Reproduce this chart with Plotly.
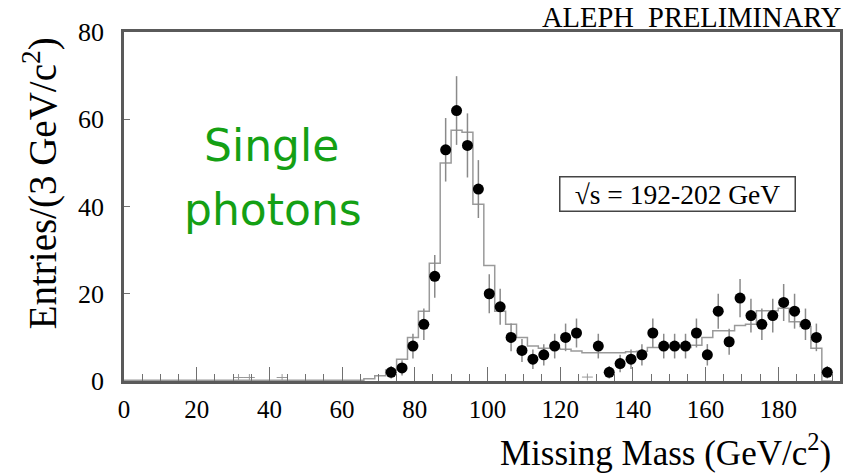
import numpy as np
import plotly.graph_objects as go

# ---- data -------------------------------------------------------------
# data points: bin centres (GeV/c^2) and entries per 3 GeV/c^2
data_mass = [73.5, 76.5, 79.5, 82.5, 85.5, 88.5, 91.5, 94.5, 97.5, 100.5,
             103.5, 106.5, 109.5, 112.5, 115.5, 118.5, 121.5, 124.5, 130.5,
             133.5, 136.5, 139.5, 142.5, 145.5, 148.5, 151.5, 154.5, 157.5,
             160.5, 163.5, 166.5, 169.5, 172.5, 175.5, 178.5, 181.5, 184.5,
             187.5, 190.5, 193.5]
data_entries = [2, 3, 8, 13, 24, 53, 62, 54, 44, 20,
                17, 10, 7, 5, 6, 8, 10, 11, 8,
                2, 4, 5, 6, 11, 8, 8, 8, 11,
                6, 16, 9, 19, 15, 13, 15, 18, 16,
                13, 10, 2]

# empty bins drawn as small crosses
empty_mass = [31.5, 34.5, 43.5, 127.5]
empty_level = [0.8, 0.8, 0.8, 0.9]

# Monte Carlo expectation histogram (bins of 3 GeV/c^2 from 0 to 195)
mc_bin_low = list(range(0, 195, 3))
mc_entries = [0.2, 0.2, 0.2, 0.2, 0.2, 0.2, 0.2, 0.2, 0.2, 0.2,
              0.2, 0.2, 0.2, 0.2, 0.2, 0.2, 0.2, 0.2, 0.2, 0.2,
              0.2, 0.2, 0.5, 1.2, 2.5, 5.0, 10.0, 16.0, 27.0, 50.0,
              57.5, 57.0, 40.5, 26.5, 16.0, 13.0, 10.0, 8.0, 7.5, 7.5,
              7.3, 6.9, 6.5, 6.5, 6.5, 6.5, 6.7, 6.8, 7.7, 7.7,
              7.7, 7.7, 8.2, 10.0, 11.5, 11.5, 12.7, 13.0, 16.1, 16.1,
              16.7, 13.6, 12.5, 7.5, 0.0]

x_ticks = [0, 20, 40, 60, 80, 100, 120, 140, 160, 180]
y_ticks = [0, 20, 40, 60, 80]

# ---- figure -----------------------------------------------------------
SERIF = "Liberation Serif, Times New Roman, serif"
FRAME = "#5a5a5a"

fig = go.Figure()

fig.add_trace(go.Scatter(
    x=mc_bin_low + [195], y=mc_entries + [mc_entries[-1]],
    mode="lines", line=dict(color="#9a9a9a", width=1.5, shape="hv"),
    hoverinfo="skip", showlegend=False))

fig.add_trace(go.Scatter(
    x=empty_mass, y=empty_level, mode="markers",
    marker=dict(size=1, color="rgba(0,0,0,0)"),
    error_x=dict(type="constant", value=1.5, color="#999999", thickness=1, width=0),
    error_y=dict(type="constant", value=0.8, color="#999999", thickness=1, width=0),
    showlegend=False, hoverinfo="skip"))

fig.add_trace(go.Scatter(
    x=data_mass, y=data_entries, mode="markers",
    marker=dict(color="black", size=11),
    error_y=dict(type="data", array=np.sqrt(np.array(data_entries, float)).tolist(),
                 color="#8a8a8a", thickness=1.5, width=0),
    showlegend=False))

fig.update_layout(
    width=850, height=476,
    margin=dict(l=124, r=7, t=32, b=95),
    paper_bgcolor="white", plot_bgcolor="white",
    font=dict(family=SERIF, color="black", size=25),
    xaxis=dict(range=[0, 197], tickvals=x_ticks, ticks="inside", ticklen=14,
               tickwidth=1, tickcolor="#707070",
               minor=dict(dtick=5, ticks="inside", ticklen=7, tickcolor="#707070", tickwidth=1),
               showline=True, linecolor=FRAME, linewidth=2.5, mirror=True,
               showgrid=False, zeroline=False, ticklabelstandoff=4,
               tickfont=dict(family=SERIF, size=25)),
    yaxis=dict(range=[0, 80], tickvals=y_ticks, ticks="inside", ticklen=6,
               tickwidth=1, tickcolor="#707070",
               showline=True, linecolor=FRAME, linewidth=2.5, mirror=True,
               showgrid=False, zeroline=False, ticklabelstandoff=12,
               tickfont=dict(family=SERIF, size=26)),
)

GREEN = dict(family="DejaVu Sans, Verdana, sans-serif", size=44, color="#14a014")
ann = [
    dict(text="Missing Mass (GeV/c<sup>2</sup>)", xref="paper", yref="paper",
         x=0.99, y=-0.198, xanchor="right", yanchor="middle", showarrow=False,
         font=dict(family=SERIF, size=35)),
    dict(text="Entries/(3 GeV/c<sup>2</sup>)", xref="paper", yref="paper",
         x=-0.117, y=0.567, xanchor="center", yanchor="middle", textangle=-90,
         showarrow=False, font=dict(family=SERIF, size=39)),
    dict(text="ALEPH\u00a0 PRELIMINARY", xref="paper", yref="paper",
         x=1.004, y=0.991, xanchor="right", yanchor="bottom", showarrow=False,
         font=dict(family=SERIF, size=28.5)),
    dict(text="\u221as = 192-202 GeV", xref="x", yref="y",
         x=152.3, y=42.9, xanchor="center", yanchor="middle", showarrow=False,
         width=232, height=31, bordercolor="#444444", borderwidth=1.5, borderpad=1,
         bgcolor="white", font=dict(family=SERIF, size=27.5)),
    dict(text="Single", xref="paper", yref="paper",
         x=(272.5 - 124) / 719, y=(381 - 145) / 349, xanchor="center", yanchor="middle",
         showarrow=False, font=GREEN),
    dict(text="photons", xref="paper", yref="paper",
         x=(274 - 124) / 719, y=(381 - 209) / 349, xanchor="center", yanchor="middle",
         showarrow=False, font=GREEN),
]
fig.update_layout(annotations=ann)

fig.write_html("out.html")
